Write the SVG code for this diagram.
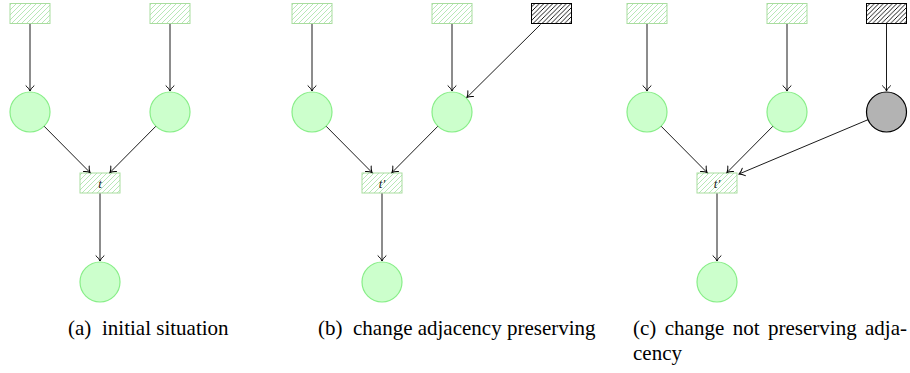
<svg xmlns="http://www.w3.org/2000/svg" width="910" height="373" viewBox="0 0 910 373">
<defs>
<pattern id="hg" patternUnits="userSpaceOnUse" width="5" height="5">
<path d="M0,5 L5,0 M-1,1 L1,-1 M4,6 L6,4" stroke="#99dd99" stroke-width="0.7"/>
</pattern>
<pattern id="hk" patternUnits="userSpaceOnUse" width="4.5" height="4.5">
<path d="M0,4.5 L4.5,0 M-1,1 L1,-1 M3.5,5.5 L5.5,3.5" stroke="#000" stroke-width="0.9"/>
</pattern>
<marker id="arr" markerWidth="12" markerHeight="12" viewBox="-7 -6 12 12" refX="0" refY="0" orient="auto" markerUnits="userSpaceOnUse">
<path d="M-5.2,-4 C-3.5,-2 -1.4,-0.6 0,0 C-1.4,0.6 -3.5,2 -5.2,4" fill="none" stroke="#000" stroke-width="1" stroke-linecap="round"/>
</marker>
<style>
.tg{fill:#fff;stroke:#aadd9f;stroke-width:1}
.tk{fill:#fff;stroke:#000;stroke-width:1}
.pg{fill:#ccffcc;stroke:#88ee88;stroke-width:1.2}
.pk{fill:#b3b3b3;stroke:#000;stroke-width:1.2}
.e{stroke:#000;stroke-width:0.9;fill:none;marker-end:url(#arr)}
.lbl{font-family:"Liberation Serif","Times New Roman",serif;font-style:italic;font-size:13px;fill:#222}
.cap{font-family:"Liberation Serif","Times New Roman",serif;font-size:21px;fill:#000}
</style>
</defs>

<!-- Panel (a) -->
<g id="panel-a">
<g id="a-t1"><rect class="tg" x="10" y="3.5" width="40" height="20"/><rect x="10" y="3.5" width="40" height="20" fill="url(#hg)"/></g>
<g id="a-t2"><rect class="tg" x="150" y="3.5" width="40" height="20"/><rect x="150" y="3.5" width="40" height="20" fill="url(#hg)"/></g>
<g id="a-p1"><circle class="pg" cx="30" cy="112" r="20"/></g>
<g id="a-p2"><circle class="pg" cx="170" cy="112" r="20"/></g>
<g id="a-t"><rect class="tg" x="80" y="173" width="40" height="20"/><rect x="80" y="173" width="40" height="20" fill="url(#hg)"/><text class="lbl" x="100" y="187.5" text-anchor="middle">t</text></g>
<g id="a-p3"><circle class="pg" cx="100" cy="282" r="20"/></g>
<g id="a-edges">
<line class="e" x1="30" y1="24" x2="30" y2="91"/>
<line class="e" x1="170" y1="24" x2="170" y2="91"/>
<line class="e" x1="44.2" y1="126.3" x2="90" y2="172.5"/>
<line class="e" x1="155.8" y1="126.3" x2="110" y2="172.5"/>
<line class="e" x1="100" y1="193.5" x2="100" y2="261"/>
</g>
</g>

<!-- Panel (b) -->
<g id="panel-b" transform="translate(282,0)">
<g id="b-t1"><rect class="tg" x="10" y="3.5" width="40" height="20"/><rect x="10" y="3.5" width="40" height="20" fill="url(#hg)"/></g>
<g id="b-t2"><rect class="tg" x="150" y="3.5" width="40" height="20"/><rect x="150" y="3.5" width="40" height="20" fill="url(#hg)"/></g>
<g id="b-t3"><rect class="tk" x="249.5" y="3.5" width="40" height="20"/><rect x="249.5" y="3.5" width="40" height="20" fill="url(#hk)"/><rect x="249.5" y="3.5" width="40" height="20" fill="none" stroke="#000" stroke-width="1"/></g>
<g id="b-p1"><circle class="pg" cx="30" cy="112" r="20"/></g>
<g id="b-p2"><circle class="pg" cx="170" cy="112" r="20"/></g>
<g id="b-t"><rect class="tg" x="80" y="173" width="40" height="20"/><rect x="80" y="173" width="40" height="20" fill="url(#hg)"/><text class="lbl" x="100" y="187.5" text-anchor="middle">t′</text></g>
<g id="b-p3"><circle class="pg" cx="100" cy="282" r="20"/></g>
<g id="b-edges">
<line class="e" x1="30" y1="24" x2="30" y2="91"/>
<line class="e" x1="170" y1="24" x2="170" y2="91"/>
<line class="e" x1="258.5" y1="24.5" x2="185" y2="97.3"/>
<line class="e" x1="44.2" y1="126.3" x2="90" y2="172.5"/>
<line class="e" x1="155.8" y1="126.3" x2="110" y2="172.5"/>
<line class="e" x1="100" y1="193.5" x2="100" y2="261"/>
</g>
</g>

<!-- Panel (c) -->
<g id="panel-c" transform="translate(617,0)">
<g id="c-t1"><rect class="tg" x="10" y="3.5" width="40" height="20"/><rect x="10" y="3.5" width="40" height="20" fill="url(#hg)"/></g>
<g id="c-t2"><rect class="tg" x="150" y="3.5" width="40" height="20"/><rect x="150" y="3.5" width="40" height="20" fill="url(#hg)"/></g>
<g id="c-t3"><rect class="tk" x="249.5" y="3.5" width="40" height="20"/><rect x="249.5" y="3.5" width="40" height="20" fill="url(#hk)"/><rect x="249.5" y="3.5" width="40" height="20" fill="none" stroke="#000" stroke-width="1"/></g>
<g id="c-p1"><circle class="pg" cx="30" cy="112" r="20"/></g>
<g id="c-p2"><circle class="pg" cx="170" cy="112" r="20"/></g>
<g id="c-p4"><circle class="pk" cx="269.5" cy="112" r="20"/></g>
<g id="c-t"><rect class="tg" x="80" y="173" width="40" height="20"/><rect x="80" y="173" width="40" height="20" fill="url(#hg)"/><text class="lbl" x="100" y="187.5" text-anchor="middle">t′</text></g>
<g id="c-p3"><circle class="pg" cx="100" cy="282" r="20"/></g>
<g id="c-edges">
<line class="e" x1="30" y1="24" x2="30" y2="91"/>
<line class="e" x1="170" y1="24" x2="170" y2="91"/>
<line class="e" x1="269.5" y1="24" x2="269.5" y2="91"/>
<line class="e" x1="44.2" y1="126.3" x2="90" y2="172.5"/>
<line class="e" x1="155.8" y1="126.3" x2="110" y2="172.5"/>
<line class="e" x1="251" y1="119.7" x2="122" y2="174"/>
<line class="e" x1="100" y1="193.5" x2="100" y2="261"/>
</g>
</g>

<!-- Captions -->
<g id="captions">
<text class="cap" x="68" y="335">(a)</text>
<text class="cap" x="102" y="335">initial situation</text>
<text class="cap" x="318" y="335">(b)</text>
<text class="cap" x="353" y="335">change adjacency preserving</text>
<text class="cap" x="633" y="335">(c)</text>
<text class="cap" x="664.8" y="335">change</text>
<text class="cap" x="732.7" y="335">not</text>
<text class="cap" x="768" y="335">preserving</text>
<text class="cap" x="865" y="335">adja-</text>
<text class="cap" x="633" y="360">cency</text>
</g>
</svg>
